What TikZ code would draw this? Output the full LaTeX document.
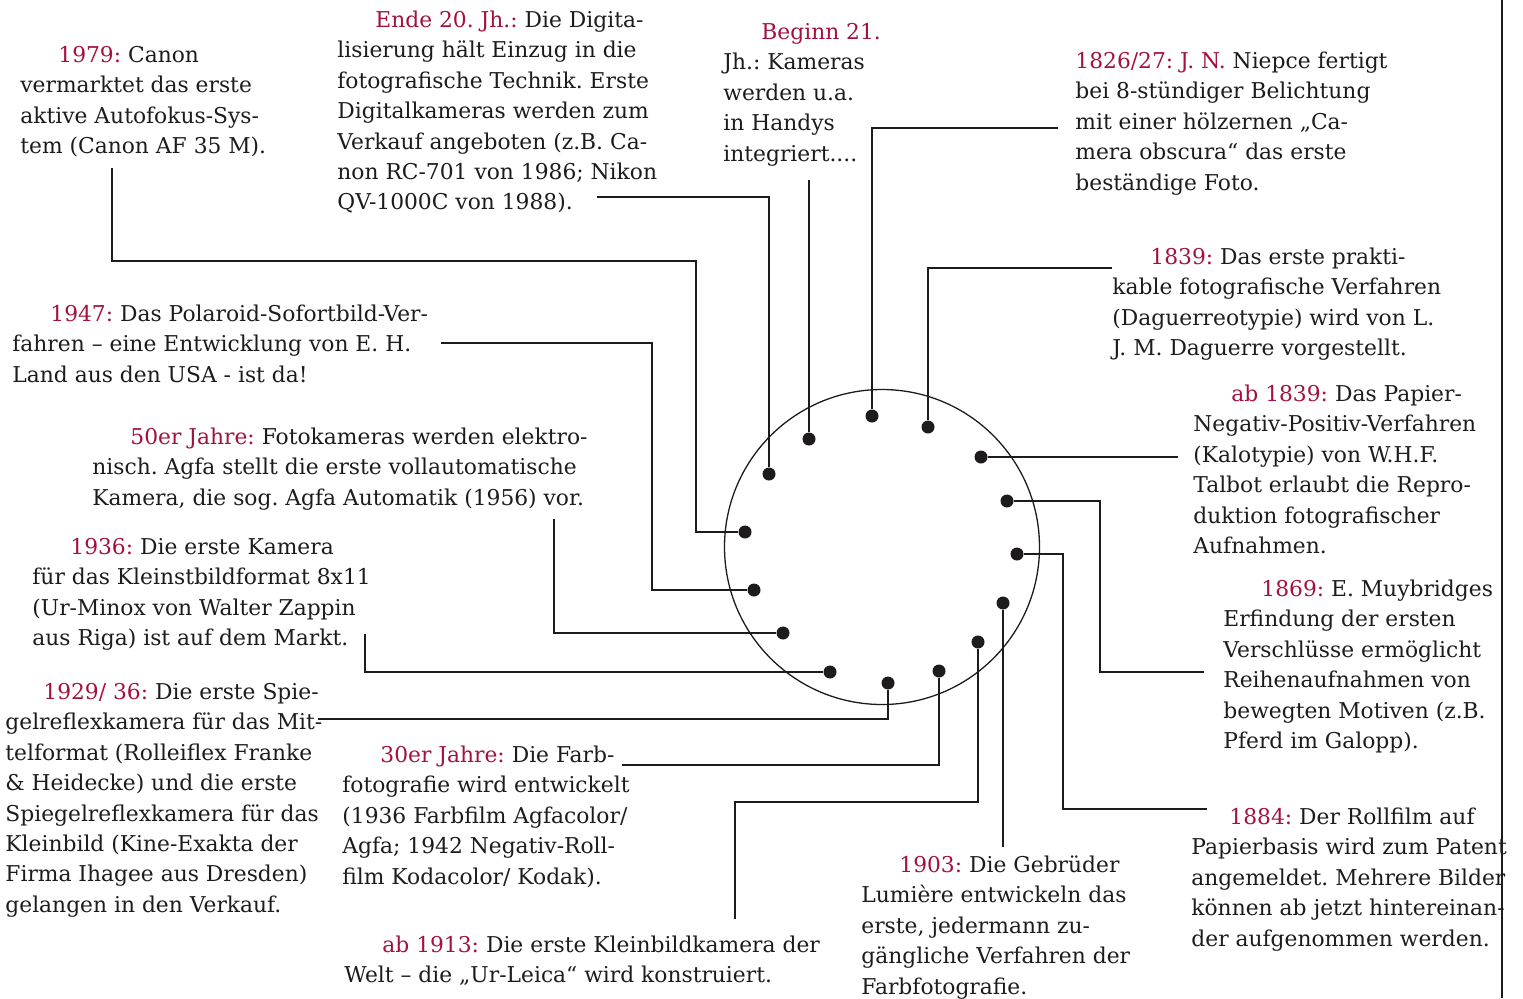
\documentclass[tikz,border=0pt]{standalone}
\usepackage{fontspec}
\setmainfont{DejaVu Serif}
\frenchspacing
\definecolor{jahrrot}{RGB}{163,18,62}
\definecolor{tinte}{RGB}{30,27,28}
\newcommand{\jahr}[1]{\rule{0pt}{9pt}\hspace*{19pt}\textcolor{jahrrot}{#1}}
\newcommand{\jahrbuendig}[1]{\rule{0pt}{9pt}\textcolor{jahrrot}{#1}}

\begin{document}
\begin{tikzpicture}
  [x=0.5pt,y=-0.5pt,
   punkt/.style={circle,fill=tinte,inner sep=0pt,minimum size=6.5pt},
   leiter/.style={draw=tinte,line width=1pt},
   eintrag/.style={anchor=north west,inner sep=0pt,align=left,text=tinte,
     font=\fontsize{10.9}{15.2}\selectfont}]
  \useasboundingbox (0,0) rectangle (1523,998);

  \node[circle,draw=tinte,line width=0.65pt,minimum size=157.5pt] (scheibe) at (882,547) {};

  \foreach \n/\x/\y in {1979/745/532,1947/754/590,50er/783/633,1936/830/672,
      1929/888/683,30er/939/671,1913/978/642,1903/1003/603,1884/1017/554,
      1869/1007/501,1839b/981/457,1839/928/427,1826/872/416,beginn/809/439,
      ende/769/474}
    \node[punkt] (p\n) at (\x,\y) {};

  \node[eintrag] (t1979) at (20,44)
    {\jahr{1979:} Canon\\vermarktet das erste\\aktive Autofokus-Sys-\\tem (Canon AF 35 M).};
  \node[eintrag] (tende) at (337,9)
    {\jahr{Ende 20. Jh.:} Die Digita-\\lisierung hält Einzug in die\\fotografische Technik. Erste\\Digitalkameras werden zum\\Verkauf angeboten (z.B. Ca-\\non RC-701 von 1986; Nikon\\QV-1000C von 1988).};
  \node[eintrag] (tbeginn) at (723,21)
    {\jahr{Beginn 21.}\\Jh.: Kameras\\werden u.a.\\in Handys\\integriert....};
  \node[eintrag] (t1826) at (1075,50)
    {\jahrbuendig{1826/27: J. N.} Niepce fertigt\\bei 8-stündiger Belichtung\\mit einer hölzernen „Ca-\\mera obscura“ das erste\\beständige Foto.};
  \node[eintrag] (t1839) at (1112,246)
    {\jahr{1839:} Das erste prakti-\\kable fotografische Verfahren\\(Daguerreotypie) wird von L.\\J. M. Daguerre vorgestellt.};
  \node[eintrag] (t1839b) at (1193,383)
    {\jahr{ab 1839:} Das Papier-\\Negativ-Positiv-Verfahren\\(Kalotypie) von W.H.F.\\Talbot erlaubt die Repro-\\duktion fotografischer\\Aufnahmen.};
  \node[eintrag] (t1869) at (1223,578)
    {\jahr{1869:} E. Muybridges\\Erfindung der ersten\\Verschlüsse ermöglicht\\Reihenaufnahmen von\\bewegten Motiven (z.B.\\Pferd im Galopp).};
  \node[eintrag] (t1884) at (1191,806)
    {\jahr{1884:} Der Rollfilm auf\\Papierbasis wird zum Patent\\angemeldet. Mehrere Bilder\\können ab jetzt hintereinan-\\der aufgenommen werden.};
  \node[eintrag] (t1903) at (861,854)
    {\jahr{1903:} Die Gebrüder\\Lumière entwickeln das\\erste, jedermann zu-\\gängliche Verfahren der\\Farbfotografie.};
  \node[eintrag] (t1913) at (344,934)
    {\jahr{ab 1913:} Die erste Kleinbildkamera der\\Welt – die „Ur-Leica“ wird konstruiert.};
  \node[eintrag] (t30er) at (342,744)
    {\jahr{30er Jahre:} Die Farb-\\fotografie wird entwickelt\\(1936 Farbfilm Agfacolor/\\Agfa; 1942 Negativ-Roll-\\film Kodacolor/ Kodak).};
  \node[eintrag] (t1929) at (5,681)
    {\jahr{1929/ 36:} Die erste Spie-\\gelreflexkamera für das Mit-\\telformat (Rolleiflex Franke\\\& Heidecke) und die erste\\Spiegelreflexkamera für das\\Kleinbild (Kine-Exakta der\\Firma Ihagee aus Dresden)\\gelangen in den Verkauf.};
  \node[eintrag] (t1936) at (32,536)
    {\jahr{1936:} Die erste Kamera\\für das Kleinstbildformat 8x11\\(Ur-Minox von Walter Zappin\\aus Riga) ist auf dem Markt.};
  \node[eintrag] (t50er) at (92,426)
    {\jahr{50er Jahre:} Fotokameras werden elektro-\\nisch. Agfa stellt die erste vollautomatische\\Kamera, die sog. Agfa Automatik (1956) vor.};
  \node[eintrag] (t1947) at (12,303)
    {\jahr{1947:} Das Polaroid-Sofortbild-Ver-\\fahren – eine Entwicklung von E. H.\\Land aus den USA - ist da!};

  \coordinate (c1979) at (112,168);
  \coordinate (cende) at (597,197);
  \coordinate (cbeginn) at (809,180);
  \coordinate (c1826) at (1058,128);
  \coordinate (c1839) at (1112,268);
  \coordinate (c1839b) at (1178,457);
  \coordinate (c1869) at (1204,672);
  \coordinate (c1884) at (1207,809);
  \coordinate (c1903) at (1003,847);
  \coordinate (c1913) at (735,919);
  \coordinate (c30er) at (622,765);
  \coordinate (c1929) at (318,719);
  \coordinate (c1936) at (365,634);
  \coordinate (c50er) at (554,519);
  \coordinate (c1947) at (441,343);

  \draw[leiter] (c1979) |- (696,261) |- (p1979);
  \draw[leiter] (c1947) -- (652,343) |- (p1947);
  \draw[leiter] (c1869) -- (1100,672) |- (p1869);
  \draw[leiter] (c1884) -- (1063,809) |- (p1884);
  \draw[leiter] (c1913) -- (735,802) -| (p1913);
  \foreach \n in {ende,1826,1839,30er,1929}
    \draw[leiter] (c\n) -| (p\n);
  \foreach \n in {1936,50er}
    \draw[leiter] (c\n) |- (p\n);
  \foreach \n in {beginn,1839b,1903}
    \draw[leiter] (c\n) -- (p\n);

  \draw[tinte,line width=1.2pt] (1502,0) -- (1502,998);
\end{tikzpicture}
\end{document}
